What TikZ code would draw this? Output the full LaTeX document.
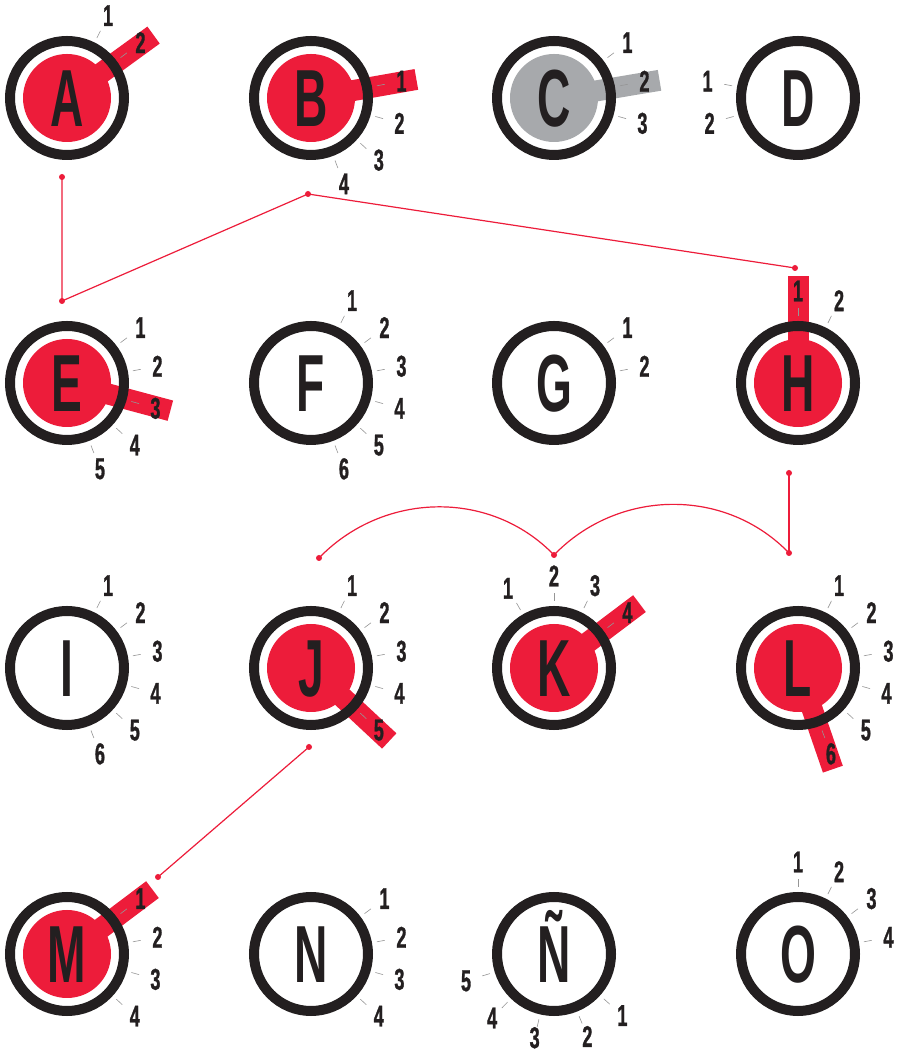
\documentclass[tikz,border=0pt]{standalone}
\usepackage{fontspec}
\newfontfamily\dinfont[FakeStretch=0.57]{Liberation Sans}
\newfontfamily\numfont[FakeStretch=0.6,FakeBold=1]{Liberation Sans}
\usetikzlibrary{calc}
\definecolor{redc}{RGB}{237,28,58}
\definecolor{grayc}{RGB}{167,169,172}
\definecolor{ink}{RGB}{35,31,32}
\definecolor{tickc}{RGB}{150,150,150}
\tikzset{
  ring/.style={circle,draw=ink,line width=10pt,minimum size=114pt,inner sep=0pt,outer sep=0pt},
  letter/.style={anchor=base,inner sep=0pt,text=ink,font=\dinfont\bfseries\fontsize{81}{81}\selectfont},
  num/.style={inner sep=0pt,text=ink,font=\numfont\bfseries\fontsize{30}{30}\selectfont},
  tick/.style={draw=tickc,line width=0.6pt},
  link/.style={draw=redc,line width=1.2pt},
  dot/.style={circle,fill=redc,inner sep=0pt,minimum size=6pt},
}
\newcommand\dring[2]{%
  \node[ring] (#1-ring) at (#1) {};
  \node[letter] (#1-letter) at ([yshift=-29pt]#1) {#2};}
\newcommand\dlabr[4]{%
  \draw[tick] ([shift={(#2:67pt)}]#1) -- ([shift={(#2:75pt)}]#1);
  \node[num] (#1-#3) at ([shift={(#2:#4)}]#1) {#3};}
\newcommand\dlab[3]{\dlabr{#1}{#2}{#3}{92pt}}
\newcommand\ddisk[2]{\fill[#2] (#1) circle[radius=44pt];}
\newcommand\dbar[3]{%
  \begin{scope}[shift={(#1)},rotate=#2]
    \fill[#3] (15pt,-10.5pt) rectangle (107pt,10.5pt);
  \end{scope}}
\begin{document}
\begin{tikzpicture}[x=1pt,y=1pt]
\fill[white] (0,0) rectangle (901,1054);
\useasboundingbox (0,0) rectangle (901,1054);
% centres
\coordinate (A) at (67,956);  \coordinate (B) at (311,956);
\coordinate (C) at (554,956); \coordinate (D) at (798,956);
\coordinate (E) at (67,671);  \coordinate (F) at (311,671);
\coordinate (G) at (554,671); \coordinate (H) at (798,671);
\coordinate (I) at (67,386);  \coordinate (J) at (311,386);
\coordinate (K) at (554,386); \coordinate (L) at (798,386);
\coordinate (M) at (67,100);  \coordinate (N) at (311,100);
\coordinate (Q) at (554,100); \coordinate (O) at (798,100);
% connector points
\node[dot] (p1) at (62,877) {};
\node[dot] (p2) at (62,753) {};
\node[dot] (p3) at (308,860) {};
\node[dot] (p4) at (795,786) {};
\node[dot] (p5) at (789,581) {};
\node[dot] (p6) at (789,501) {};
\node[dot] (p7) at (554,499) {};
\node[dot] (p8) at (319,496) {};
\node[dot] (p9) at (309,307) {};
\node[dot] (p10) at (158,177) {};
\draw[link] (p1.center) -- (p2.center) -- (p3.center) -- (p4.center);
\draw[link] (p5.center) -- (p6.center);
\draw[link] (p7.center) to[out=46,in=134] (p6.center);
\draw[link] (p8.center) to[out=46,in=134] (p7.center);
\draw[link] (p9.center) -- (p10.center);
% fills and bars
\ddisk{A}{redc} \dbar{A}{36}{redc}
\ddisk{B}{redc} \dbar{B}{10}{redc}
\ddisk{C}{grayc} \dbar{C}{9.5}{grayc}
\ddisk{E}{redc} \dbar{E}{-15}{redc}
\ddisk{H}{redc} \dbar{H}{90}{redc}
\ddisk{J}{redc} \dbar{J}{-43}{redc}
\ddisk{K}{redc} \dbar{K}{37}{redc}
\ddisk{L}{redc} \dbar{L}{-71}{redc}
\ddisk{M}{redc} \dbar{M}{37}{redc}
% rings and letters
\dring{A}{A} \dring{B}{B} \dring{C}{C} \dring{D}{D}
\dring{E}{E} \dring{F}{F} \dring{G}{G} \dring{H}{H}
\dring{I}{I} \dring{J}{J} \dring{K}{K} \dring{L}{L}
\dring{M}{M} \dring{N}{N} \dring{Q}{Ñ} \dring{O}{O}
% labels
\dlab{A}{63.5}{1} \dlab{A}{37}{2}
\dlab{B}{10.5}{1} \dlab{B}{-16}{2} \dlab{B}{-42.5}{3} \dlab{B}{-69}{4}
\dlab{C}{37}{1} \dlab{C}{10.5}{2} \dlab{C}{-16}{3}
\dlab{D}{169.5}{1} \dlab{D}{196}{2}
\dlab{E}{37}{1} \dlab{E}{10.5}{2} \dlab{E}{-16}{3} \dlab{E}{-42.5}{4} \dlab{E}{-69}{5}
\dlab{F}{63.5}{1} \dlab{F}{37}{2} \dlab{F}{10.5}{3} \dlab{F}{-16}{4} \dlab{F}{-42.5}{5} \dlab{F}{-69}{6}
\dlab{G}{37}{1} \dlab{G}{10.5}{2}
\dlab{H}{90}{1} \dlab{H}{63.5}{2}
\dlab{I}{63.5}{1} \dlab{I}{37}{2} \dlab{I}{10.5}{3} \dlab{I}{-16}{4} \dlab{I}{-42.5}{5} \dlab{I}{-69}{6}
\dlab{J}{63.5}{1} \dlab{J}{37}{2} \dlab{J}{10.5}{3} \dlab{J}{-16}{4} \dlab{J}{-42.5}{5}
\dlab{K}{120}{1} \dlab{K}{90}{2} \dlab{K}{63.5}{3} \dlab{K}{37}{4}
\dlab{L}{63.5}{1} \dlab{L}{37}{2} \dlab{L}{10.5}{3} \dlab{L}{-16}{4} \dlab{L}{-42.5}{5} \dlab{L}{-69}{6}
\dlab{M}{37}{1} \dlab{M}{10.5}{2} \dlab{M}{-16}{3} \dlab{M}{-42.5}{4}
\dlab{N}{37}{1} \dlab{N}{10.5}{2} \dlab{N}{-16}{3} \dlab{N}{-42.5}{4}
\dlab{Q}{-42}{1} \dlabr{Q}{-68}{2}{89pt} \dlabr{Q}{-103}{3}{86pt} \dlabr{Q}{-134}{4}{89pt} \dlab{Q}{-163}{5}
\dlab{O}{90}{1} \dlab{O}{63.5}{2} \dlab{O}{37}{3} \dlab{O}{10.5}{4}
\end{tikzpicture}
\end{document}
